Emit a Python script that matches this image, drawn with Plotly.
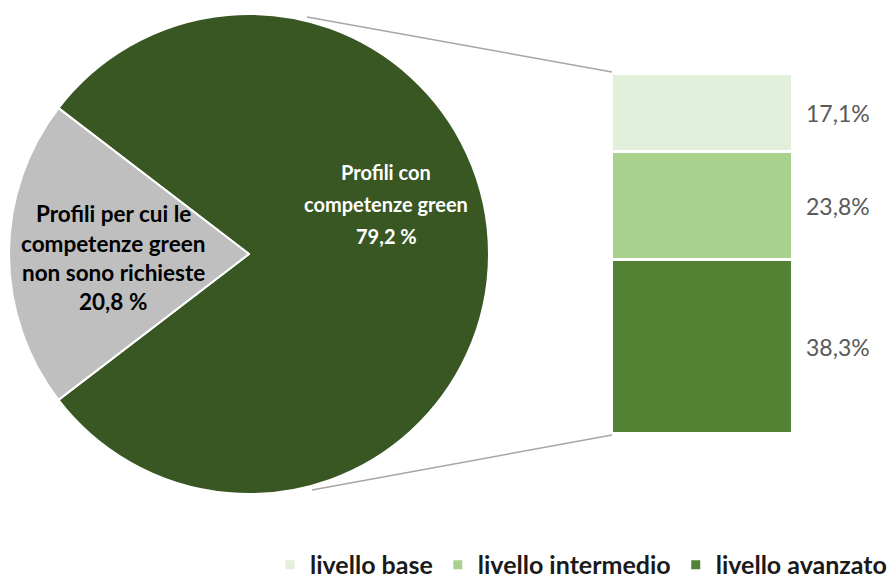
import plotly.graph_objects as go

# Data
pie_labels = ["Profili con competenze green", "Profili per cui le competenze green non sono richieste"]
pie_label_lines = [["Profili con", "competenze green"],
                   ["Profili per cui le", "competenze green", "non sono richieste"]]
pie_values = [79.2, 20.8]
pie_colors = ["#385723", "#BFBFBF"]

bar_levels = ["livello avanzato", "livello intermedio", "livello base"]
bar_values = [38.3, 23.8, 17.1]
bar_colors = ["#548235", "#A9D18E", "#E2EFDA"]

W, H = 892, 581
FONT = "Lato"

def px(x):
    return x / W

def py(y):
    return 1 - y / H

def fmt(v, sep=""):
    return f"{v:.1f}".replace(".", ",") + sep + "%"

fig = go.Figure()

# Pie: grey slice centred on the left (9 o'clock)
grey_half = pie_values[1] / 100 * 360 / 2
fig.add_trace(go.Pie(
    labels=pie_labels,
    values=pie_values,
    marker=dict(colors=pie_colors, line=dict(color="white", width=2)),
    sort=False,
    direction="clockwise",
    rotation=270 + grey_half,
    textinfo="none",
    hoverinfo="label+percent",
    showlegend=False,
    domain=dict(x=[px(9), px(489)], y=[py(494), py(14)]),
))

# Stacked bar
for lvl, val, col in zip(bar_levels, bar_values, bar_colors):
    fig.add_trace(go.Bar(
        x=["green"], y=[val], name=lvl,
        marker=dict(color=col, line=dict(color="white", width=3)),
        xaxis="x", yaxis="y",
    ))

total = sum(bar_values)
fig.update_layout(
    width=W, height=H,
    margin=dict(l=0, r=0, t=0, b=0, autoexpand=False),
    paper_bgcolor="white", plot_bgcolor="white",
    barmode="stack", bargap=0,
    xaxis=dict(domain=[px(612), px(793)], visible=False, fixedrange=True),
    yaxis=dict(domain=[py(434), py(74)], range=[0, total], visible=False, fixedrange=True),
    font=dict(family=FONT),
    legend=dict(
        orientation="h", traceorder="reversed",
        x=1.0, xanchor="right", y=-0.012, yanchor="bottom",
        font=dict(size=25, color="#1A1A1A", family=FONT, weight="bold"),
        itemwidth=30,
    ),
    showlegend=True,
)

# Percent labels beside bar
cum = 0
for val in bar_values:
    fig.add_annotation(
        x=px(804), xref="paper", xanchor="left",
        y=cum + val / 2, yref="y", yanchor="middle",
        text=fmt(val),
        showarrow=False,
        font=dict(size=23, color="#595959", family=FONT),
    )
    cum += val

# Pie labels, one annotation per line
green_lines = pie_label_lines[0] + [fmt(pie_values[0], " ")]
for i, line in enumerate(green_lines):
    fig.add_annotation(
        x=px(386), y=py(172 + 32 * i), xref="paper", yref="paper",
        xanchor="center", yanchor="middle",
        text=line, showarrow=False,
        font=dict(size=20, color="white", family=FONT, weight="bold"),
    )
grey_lines = pie_label_lines[1] + [fmt(pie_values[1], " ")]
for i, line in enumerate(grey_lines):
    fig.add_annotation(
        x=px(113), y=py(214 + 29.3 * i), xref="paper", yref="paper",
        xanchor="center", yanchor="middle",
        text=line, showarrow=False,
        font=dict(size=22.5, color="black", family=FONT, weight="bold"),
    )

# Connector lines
fig.add_shape(type="line", xref="paper", yref="paper",
              x0=px(307), y0=py(17), x1=px(612), y1=py(72),
              line=dict(color="#A6A6A6", width=1.5))
fig.add_shape(type="line", xref="paper", yref="paper",
              x0=px(312), y0=py(490), x1=px(612), y1=py(435),
              line=dict(color="#A6A6A6", width=1.5))

fig.write_html("out.html", config={"displayModeBar": False},
               post_script="document.body.style.margin='0px';")
